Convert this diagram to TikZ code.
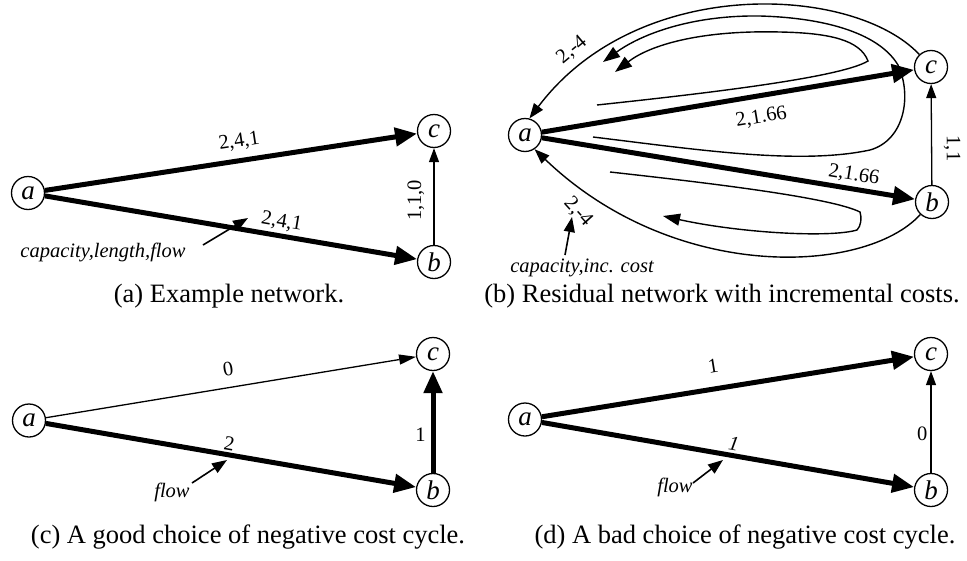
\documentclass[tikz,border=0pt]{standalone}
\usepackage{fontspec}
\setmainfont{Liberation Serif}
\usetikzlibrary{arrows.meta}

\begin{document}
% 1 unit = 1pt; the page runs from y=0 (top) down to y=-560 (bottom)
\begin{tikzpicture}[x=1pt,y=1pt,
  vtx/.style={circle,draw,line width=1.3pt,minimum size=33pt,inner sep=0pt,
    font=\fontsize{27}{30}\selectfont\itshape},
  heavy/.style={line width=5pt,-{Triangle[length=22pt,width=18pt]}},
  light/.style={line width=1.3pt,-{Triangle[length=14pt,width=10pt]}},
  medium/.style={line width=1.3pt,-{Triangle[length=17pt,width=10pt]}},
  bend arc/.style={line width=1.4pt,-{Triangle[length=15pt,width=11pt]}},
  cyc/.style={line width=1.4pt,-{Triangle[length=17pt,width=12pt]}},
  pointer/.style={line width=1.6pt,-{Triangle[length=15pt,width=11pt]}},
  lab/.style={font=\fontsize{20.5}{24}\selectfont,inner sep=2pt},
  note/.style={font=\fontsize{20.5}{24}\selectfont\itshape,inner sep=2pt},
  captxt/.style={font=\fontsize{26.5}{30}\selectfont,inner sep=0pt},
]
\useasboundingbox (0,-560) rectangle (967,0);

% ---------- (a) example network ----------
\node[vtx] (a1) at (28,-193) {a};
\node[vtx] (c1) at (434,-131) {c};
\node[vtx] (b1) at (434,-262) {b};
\draw[heavy] (a1) -- node[lab,sloped,above=6pt,pos=0.53] {2,4,1} (c1);
\draw[heavy] (a1) -- node[lab,sloped,above=1pt,pos=0.63] {2,4,1} (b1);
\draw[light] (b1) -- node[lab,sloped,above=7pt,pos=0.46] {1,1,0} (c1);
\node[note] (n1) at (103,-252) {capacity,length,flow};
\coordinate (s1) at (203,-245);
\coordinate (t1) at (248,-218);
\draw[pointer] (s1) -- (t1);
\node[captxt] (capa) at (229,-296) {(a) Example network.};

% ---------- (b) residual network ----------
\node[vtx] (a2) at (525,-135) {a};
\node[vtx] (c2) at (931,-67) {c};
\node[vtx] (b2) at (932,-202) {b};
\draw[heavy] (a2) -- node[lab,sloped,below=9pt,pos=0.58] {2,1.66} (c2);
\draw[heavy] (a2) -- node[lab,sloped,above=1pt,pos=0.83] {2,1.66} (b2);
\draw[light] (b2) -- node[lab,sloped,above=9.5pt,pos=0.36] {1,1} (c2);
\draw[bend arc] (c2.133) .. controls (854,15) and (638,26) .. (a2.75);
\draw[bend arc] (b2.227) .. controls (865,-275) and (674,-283) .. (a2.304);
\node[lab,rotate=40] (r1) at (572,-50) {2,-4};
\node[lab,rotate=-48] (r2) at (578,-212) {2,-4};
% negative cost cycles drawn in the residual network
\draw[cyc] (597,-105) .. controls (700,-94) and (840,-78) .. (868,-61)
  .. controls (860,-40) and (830,-33) .. (780,-32)
  .. controls (700,-30) and (650,-45) .. (615,-72);
\draw[cyc] (593,-137) .. controls (700,-150) and (800,-165) .. (870,-150)
  .. controls (905,-140) and (912,-95) .. (898,-65)
  .. controls (880,-35) and (830,-18) .. (760,-16)
  .. controls (690,-15) and (640,-35) .. (603,-62);
\draw[cyc] (610,-172) .. controls (700,-182) and (830,-197) .. (860,-212)
  .. controls (862,-218) and (861,-226) .. (857,-230)
  .. controls (830,-238) and (740,-233) .. (663,-216);
\node[note] (n2) at (582,-268) {capacity,inc. cost};
\coordinate (s2) at (565,-255);
\coordinate (t2) at (572,-217);
\draw[pointer] (s2) -- (t2);
\node[captxt] (capb) at (722,-296) {(b) Residual network with incremental costs.};

% ---------- (c) good cycle ----------
\node[vtx] (a3) at (29,-420.5) {a};
\node[vtx] (c3) at (433,-354) {c};
\node[vtx] (b3) at (433,-490) {b};
\draw[medium] (a3) -- node[lab,sloped,above=9pt,pos=0.5] {0} (c3);
\draw[heavy] (a3) -- node[lab,sloped,above=0pt,pos=0.49] {2} (b3);
\draw[heavy] (b3) -- node[lab,left=3pt,pos=0.37] {1} (c3);
\node[note] (n3) at (172,-492) {flow};
\coordinate (s3) at (192,-483);
\coordinate (t3) at (227,-460);
\draw[pointer] (s3) -- (t3);
\node[captxt] (capc) at (248,-537) {(c) A good choice of negative cost cycle.};

% ---------- (d) bad cycle ----------
\node[vtx] (a4) at (525,-419.5) {a};
\node[vtx] (c4) at (931,-354) {c};
\node[vtx] (b4) at (931,-490) {b};
\draw[heavy] (a4) -- node[lab,sloped,above=12pt,pos=0.47] {1} (c4);
\draw[heavy] (a4) -- node[lab,sloped,above=1pt,pos=0.51] {\itshape 1} (b4);
\draw[light] (b4) -- node[lab,left=1pt,pos=0.38] {0} (c4);
\node[note] (n4) at (675,-487) {flow};
\coordinate (s4) at (693,-483);
\coordinate (t4) at (723,-460);
\draw[pointer] (s4) -- (t4);
\node[captxt] (capd) at (745,-537) {(d) A bad choice of negative cost cycle.};
\end{tikzpicture}
\end{document}
